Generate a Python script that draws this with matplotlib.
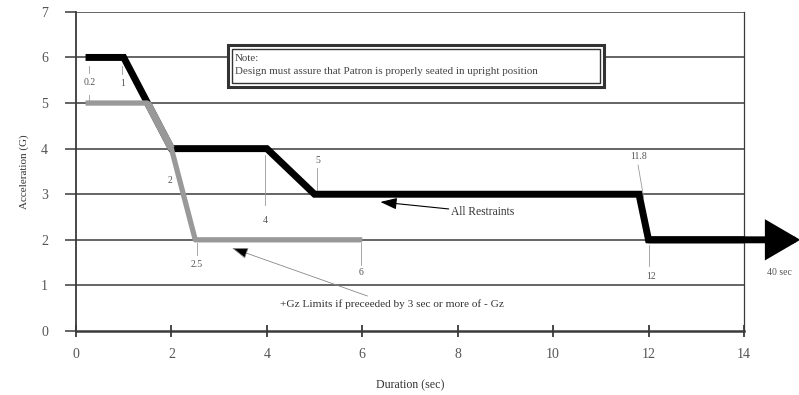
import matplotlib
matplotlib.use("Agg")
import matplotlib.pyplot as plt
from matplotlib.patches import Rectangle

plt.rcParams['font.family'] = ['Liberation Serif', 'DejaVu Serif']

# limite para todas las sujeciones (negro)
tAll = [0.2, 1, 2, 4, 5, 11.8, 12, 14]
gAll = [6, 6, 4, 4, 3, 3, 2, 2]
tEnd = 15.18  # la flecha sigue hasta 40 s

# limite +Gz si antes hubo -Gz (gris)
tGz = [0.2, 1.5, 2, 2.5, 6]
gGz = [5, 5, 4, 2, 2]

xTicks = [0, 2, 4, 6, 8, 10, 12, 14]
yTicks = [0, 1, 2, 3, 4, 5, 6, 7]

grid = '#3a3a3a'
txt = '#555555'

fig = plt.figure(figsize=(7.99, 3.95), dpi=100)
ax = fig.add_axes([0.0951, 0.162, 0.836, 0.808])
ax.set_xlim(0, 14)
ax.set_ylim(0, 7)

# lineas horizontales
for y in yTicks[1:]:
    ax.axhline(y, color=grid, lw=1.1, zorder=1)

ax.spines['top'].set_visible(False)
ax.spines['left'].set_color(grid)
ax.spines['left'].set_linewidth(1.3)
ax.spines['right'].set_color(grid)
ax.spines['right'].set_linewidth(0.9)
ax.spines['bottom'].set_color(grid)
ax.spines['bottom'].set_linewidth(1.8)

ax.set_xticks(xTicks)
ax.set_yticks(yTicks)
ax.tick_params(axis='y', direction='out', length=8, width=1.1, color=grid,
               pad=12, labelsize=10, labelcolor=txt)
ax.tick_params(axis='x', direction='inout', length=9, width=1.3, color=grid,
               pad=8, labelsize=10, labelcolor=txt)

# curvas
ax.plot(tAll, gAll, color='black', lw=5, solid_capstyle='butt',
        solid_joinstyle='miter', zorder=3)
ax.plot(tGz, gGz, color='#999999', lw=3.8, solid_capstyle='butt', zorder=4)
# tramo comun 1.5-2 s: el gris tapa al negro
ax.plot(tGz[1:3], gGz[1:3], color='#999999', lw=5.2, solid_capstyle='butt',
        zorder=4)
ax.annotate('', xy=(tEnd, gAll[-1]), xytext=(tAll[-2], gAll[-1]),
            arrowprops=dict(arrowstyle='-|>,head_length=1.8,head_width=1.05',
                            mutation_scale=10, lw=5, color='black',
                            shrinkA=0, shrinkB=0, joinstyle='miter'),
            annotation_clip=False, zorder=3)

# etiquetas de tiempo con lineas guia
thin = dict(color='#999999', lw=0.6, zorder=2)
guides = [
    ([0.27, 0.27], [5.66, 5.81]), ([0.27, 0.27], [5.04, 5.18]),
    ([0.97, 0.97], [5.64, 5.81]),
    ([3.97, 3.97], [2.76, 3.86]),
    ([5.06, 5.06], [3.09, 3.57]),
    ([2.54, 2.54], [1.67, 1.93]),
    ([5.98, 5.98], [1.45, 1.93]),
    ([11.78, 11.9], [3.64, 2.92]),
    ([12.0, 12.0], [1.43, 1.89]),
]
for gx, gy in guides:
    ax.plot(gx, gy, **thin)

labels = [('0.2', 0.29, 5.44), ('1', 0.97, 5.42), ('2', 1.97, 3.31),
          ('4', 3.97, 2.43), ('5', 5.06, 3.75), ('2.5', 2.54, 1.45),
          ('6', 5.98, 1.29), ('11.8', 11.8, 3.82), ('12', 12.05, 1.2),
          ('40 sec', 14.74, 1.29)]
for s, lx, ly in labels:
    ax.text(lx, ly, s, fontsize=7, color=txt, ha='center', va='center',
            clip_on=False)

# flechas explicativas
ax.annotate('All Restraints', xy=(6.38, 2.83), xytext=(7.87, 2.6),
            fontsize=8.3, color='#333333', va='center',
            arrowprops=dict(arrowstyle='-|>,head_length=1.0,head_width=0.35',
                            mutation_scale=10, lw=0.8, color='black',
                            shrinkA=0, shrinkB=0))
ax.annotate('+Gz Limits if preceeded by 3 sec or more of - Gz',
            xy=(3.27, 1.82), xytext=(4.27, 0.58),
            fontsize=8.1, color='#333333', va='center',
            arrowprops=dict(arrowstyle='-|>,head_length=1.0,head_width=0.35',
                            mutation_scale=10, lw=0.6, color='#888888',
                            fc='black', shrinkA=2, shrinkB=0))

# nota con doble marco
ax.add_patch(Rectangle((0.2275, 0.765), 0.5625, 0.132, transform=ax.transAxes,
                       fc='white', ec='#333333', lw=2.2, zorder=5))
ax.add_patch(Rectangle((0.2335, 0.778), 0.5505, 0.106, transform=ax.transAxes,
                       fc='white', ec='#333333', lw=1.0, zorder=6))
ax.text(0.238, 0.853, 'Note:', transform=ax.transAxes, fontsize=7.9,
        color='#444444', va='center', zorder=7)
ax.text(0.238, 0.812,
        'Design must assure that Patron is properly seated in upright position',
        transform=ax.transAxes, fontsize=7.9, color='#444444', va='center',
        zorder=7)

ax.set_xlabel('Duration (sec)', fontsize=8.6, color='#333333', labelpad=13)
ax.set_ylabel('Acceleration (G)', fontsize=8, color='#333333', labelpad=9)

fig.savefig('out.png', dpi=100)
